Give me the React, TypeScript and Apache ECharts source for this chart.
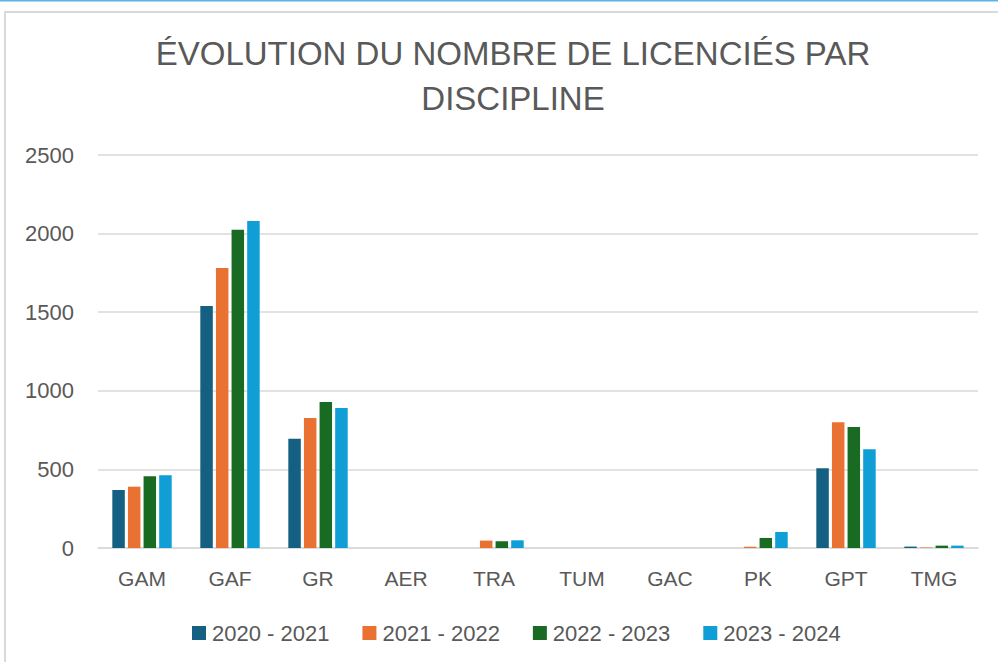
import React, { useEffect, useRef } from "react";
import * as echarts from "echarts";

const categories = ["GAM", "GAF", "GR", "AER", "TRA", "TUM", "GAC", "PK", "GPT", "TMG"];
const seriesNames = ["2020 - 2021", "2021 - 2022", "2022 - 2023", "2023 - 2024"];
const s2020 = [369, 1539, 695, 0, 0, 0, 0, 0, 507, 9];
const s2021 = [390, 1781, 827, 0, 47, 0, 0, 8, 800, 3];
const s2022 = [456, 2025, 929, 0, 43, 0, 0, 64, 770, 15];
const s2023 = [462, 2080, 891, 0, 49, 0, 0, 102, 628, 15];
const colors = ["#156082", "#E97132", "#196B24", "#0F9ED5"];
const yTicks = { min: 0, max: 2500, interval: 500 };

export default function App() {
  const ref = useRef<HTMLDivElement>(null);
  useEffect(() => {
    document.body.style.margin = "0";
    const chart = echarts.init(ref.current!, null, { renderer: "svg" });
    const font = "Liberation Sans, Arial, sans-serif";
    const data = [s2020, s2021, s2022, s2023];
    chart.setOption({
      animation: false,
      backgroundColor: "#ffffff",
      color: colors,
      textStyle: { fontFamily: font },
      title: {
        text: "ÉVOLUTION DU NOMBRE DE LICENCIÉS PAR\nDISCIPLINE",
        left: 508,
        top: 26,
        textAlign: "center",
        textStyle: {
          fontFamily: font,
          fontSize: 33,
          fontWeight: "normal",
          color: "#595959",
          lineHeight: 45,
        },
      },
      graphic: [
        { type: "rect", shape: { x: 0, y: 0, width: 998, height: 1.5 }, style: { fill: "#5ab4e6" }, silent: true },
        { type: "rect", shape: { x: 5, y: 12, width: 1010, height: 700 }, style: { fill: "none", stroke: "#d9d9d9", lineWidth: 2 }, silent: true, z: -1 },
      ],
      legend: {
        data: seriesNames,
        left: 187,
        top: 617,
        itemWidth: 14,
        itemHeight: 14,
        itemGap: 33,
        icon: "rect",
        textStyle: { fontSize: 22, color: "#595959", fontFamily: font, padding: [0, 0, 0, 1] },
      },
      grid: { left: 98, right: 20, top: 155, bottom: 114, containLabel: false },
      xAxis: {
        type: "category",
        data: categories,
        axisLine: { lineStyle: { color: "#d9d9d9", width: 1.5 } },
        axisTick: { show: false },
        axisLabel: { fontSize: 21, color: "#595959", margin: 20, fontFamily: font },
      },
      yAxis: {
        type: "value",
        min: yTicks.min,
        max: yTicks.max,
        interval: yTicks.interval,
        axisLine: { show: false },
        axisTick: { show: false },
        splitLine: { lineStyle: { color: "#d9d9d9", width: 1.5 } },
        axisLabel: { fontSize: 22, color: "#595959", margin: 24, fontFamily: font, formatter: (v: number) => String(v) },
      },
      series: seriesNames.map((name, i) => ({
        name,
        type: "bar",
        data: data[i],
        barWidth: 12.5,
        barGap: "25%",
        itemStyle: { color: colors[i] },
      })),
    });
    return () => chart.dispose();
  }, []);
  return <div ref={ref} style={{ position: "fixed", left: 0, top: 0, width: 998, height: 662 }} />;
}
